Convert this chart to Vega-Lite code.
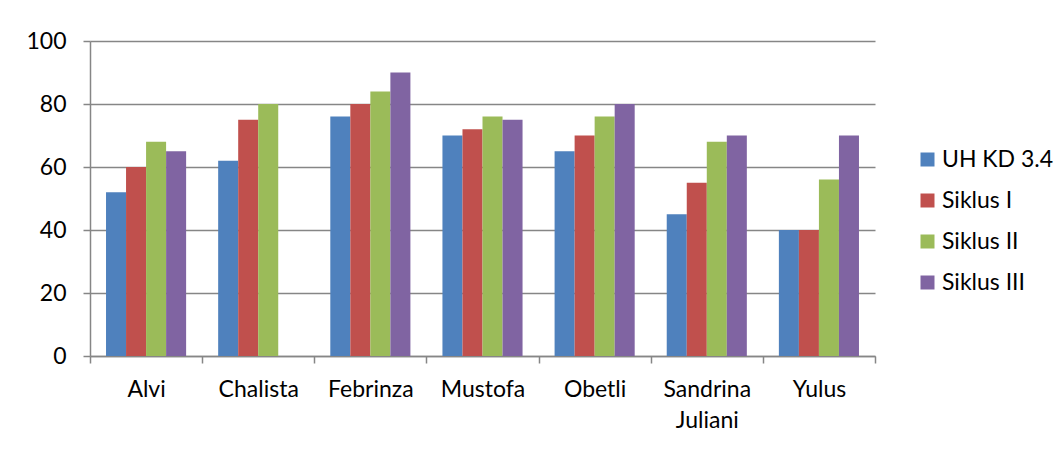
{
  "$schema": "https://vega.github.io/schema/vega-lite/v6.json",
  "autosize": {"type": "none"},
  "padding": {"left": 90, "top": 41, "right": 189, "bottom": 94},
  "width": 785,
  "height": 315,
  "background": "white",
  "data": {
    "values": [
      {"nama": "Alvi", "seri": "UH KD 3.4", "nilai": 52},
      {"nama": "Alvi", "seri": "Siklus I", "nilai": 60},
      {"nama": "Alvi", "seri": "Siklus II", "nilai": 68},
      {"nama": "Alvi", "seri": "Siklus III", "nilai": 65},
      {"nama": "Chalista", "seri": "UH KD 3.4", "nilai": 62},
      {"nama": "Chalista", "seri": "Siklus I", "nilai": 75},
      {"nama": "Chalista", "seri": "Siklus II", "nilai": 80},
      {"nama": "Febrinza", "seri": "UH KD 3.4", "nilai": 76},
      {"nama": "Febrinza", "seri": "Siklus I", "nilai": 80},
      {"nama": "Febrinza", "seri": "Siklus II", "nilai": 84},
      {"nama": "Febrinza", "seri": "Siklus III", "nilai": 90},
      {"nama": "Mustofa", "seri": "UH KD 3.4", "nilai": 70},
      {"nama": "Mustofa", "seri": "Siklus I", "nilai": 72},
      {"nama": "Mustofa", "seri": "Siklus II", "nilai": 76},
      {"nama": "Mustofa", "seri": "Siklus III", "nilai": 75},
      {"nama": "Obetli", "seri": "UH KD 3.4", "nilai": 65},
      {"nama": "Obetli", "seri": "Siklus I", "nilai": 70},
      {"nama": "Obetli", "seri": "Siklus II", "nilai": 76},
      {"nama": "Obetli", "seri": "Siklus III", "nilai": 80},
      {"nama": "Sandrina Juliani", "seri": "UH KD 3.4", "nilai": 45},
      {"nama": "Sandrina Juliani", "seri": "Siklus I", "nilai": 55},
      {"nama": "Sandrina Juliani", "seri": "Siklus II", "nilai": 68},
      {"nama": "Sandrina Juliani", "seri": "Siklus III", "nilai": 70},
      {"nama": "Yulus", "seri": "UH KD 3.4", "nilai": 40},
      {"nama": "Yulus", "seri": "Siklus I", "nilai": 40},
      {"nama": "Yulus", "seri": "Siklus II", "nilai": 56},
      {"nama": "Yulus", "seri": "Siklus III", "nilai": 70}
    ]
  },
  "mark": {"type": "bar"},
  "encoding": {
    "x": {
      "field": "nama",
      "type": "nominal",
      "sort": ["Alvi", "Chalista", "Febrinza", "Mustofa", "Obetli", "Sandrina Juliani", "Yulus"],
      "scale": {"paddingInner": 0, "paddingOuter": 0},
      "axis": {
        "title": null,
        "labelAngle": 0,
        "labelFont": "Lato",
        "labelFontSize": 23,
        "labelColor": "#000000",
        "labelPadding": 15,
        "labelLineHeight": 31,
        "labelBaseline": "top",
        "labelExpr": "datum.label == 'Sandrina Juliani' ? ['Sandrina', 'Juliani'] : datum.label",
        "tickBand": "extent",
        "tickSize": 7,
        "tickColor": "#868686",
        "tickWidth": 1.5,
        "domainColor": "#868686",
        "domainWidth": 1.5,
        "grid": false
      }
    },
    "xOffset": {
      "field": "seri",
      "type": "nominal",
      "sort": ["UH KD 3.4", "Siklus I", "Siklus II", "Siklus III"],
      "scale": {"paddingInner": 0, "paddingOuter": 0.8}
    },
    "y": {
      "field": "nilai",
      "type": "quantitative",
      "scale": {"domain": [0, 100], "nice": false},
      "axis": {
        "title": null,
        "values": [0, 20, 40, 60, 80, 100],
        "labelFont": "Lato",
        "labelFontSize": 23,
        "labelColor": "#000000",
        "labelPadding": 17,
        "tickSize": 7,
        "tickColor": "#868686",
        "tickWidth": 1.5,
        "domainColor": "#868686",
        "domainWidth": 1.5,
        "gridColor": "#868686",
        "gridWidth": 1.5
      }
    },
    "color": {
      "field": "seri",
      "type": "nominal",
      "sort": ["UH KD 3.4", "Siklus I", "Siklus II", "Siklus III"],
      "scale": {
        "domain": ["UH KD 3.4", "Siklus I", "Siklus II", "Siklus III"],
        "range": ["#4F81BD", "#C0504D", "#9BBB59", "#8064A2"]
      },
      "legend": {
        "title": null,
        "orient": "none",
        "legendX": 826,
        "legendY": 107,
        "symbolType": "square",
        "symbolSize": 196,
        "symbolStrokeWidth": 0,
        "labelFont": "Lato",
        "labelFontSize": 23,
        "labelColor": "#000000",
        "labelOffset": 3,
        "rowPadding": 17,
        "padding": 0
      }
    }
  },
  "config": {
    "view": {"stroke": null}
  }
}
